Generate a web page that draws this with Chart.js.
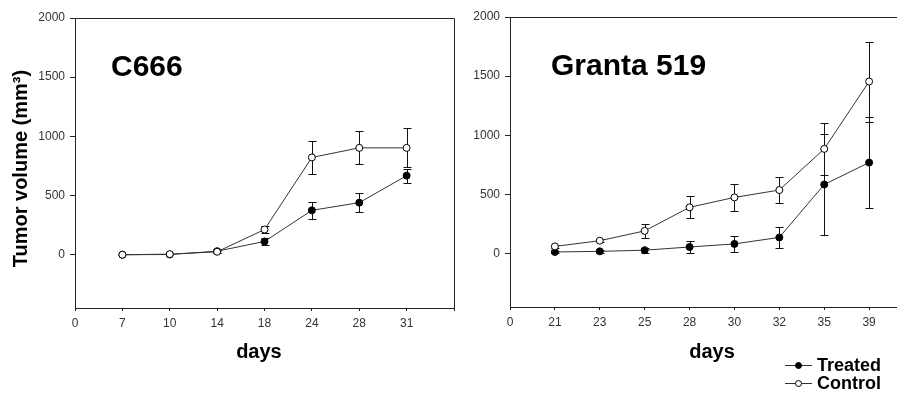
<!DOCTYPE html>
<html>
<head>
<meta charset="utf-8">
<script src="https://cdn.jsdelivr.net/npm/chart.js@4/dist/chart.umd.min.js"></script>
<style>
    html, body { margin: 0; padding: 0; background: #fff; overflow: hidden; }
    body { width: 897px; height: 394px; position: relative; }
    canvas { position: absolute; top: 0; }
    #leftChart { left: 0; }
    #rightChart { left: 460px; }
    #legend {
        position: absolute; left: 785px; top: 356px;
        font: bold 18px Arial, 'Liberation Sans', sans-serif; color: #000;
    }
    #legend .item { display: flex; align-items: center; height: 18px; }
    #legend .mk { position: relative; width: 27px; height: 1px; background: #333; margin-right: 5px; }
    #legend .dot {
        position: absolute; left: 10px; top: -3px; width: 7px; height: 7px;
        border-radius: 50%; border: 1px solid #000; box-sizing: border-box;
    }
</style>
</head>
<body>
<canvas id="leftChart" width="462" height="394"></canvas>
<canvas id="rightChart" width="470" height="394"></canvas>
<div id="legend">
    <div class="item"><span class="mk"><i class="dot" style="background:#000"></i></span>Treated</div>
    <div class="item"><span class="mk"><i class="dot" style="background:#fff"></i></span>Control</div>
</div>
<script>
// -------------------- data --------------------
// x axis tick labels (evenly spaced positions, first one is 0)
const c666Ticks = ['0', '7', '10', '14', '18', '24', '28', '31'];
const grantaTicks = ['0', '21', '23', '25', '28', '30', '32', '35', '39'];

// C666 tumor volume (mm3) and error bars
const c666Treated = [0, 2, 30, 112, 375, 440, 668];
const c666TreatedErr = [0, 0, 15, 30, 72, 78, 58];
const c666Control = [0, 5, 25, 213, 822, 903, 903];
const c666ControlErr = [0, 0, 10, 32, 140, 140, 165];

// Granta 519 tumor volume (mm3) and error bars
const grantaTreated = [15, 20, 30, 57, 83, 138, 585, 770];
const grantaTreatedErr = [10, 10, 20, 50, 65, 88, 425, 384];
const grantaControl = [62, 110, 193, 392, 476, 538, 886, 1455];
const grantaControlErr = [10, 15, 57, 93, 117, 108, 220, 338];

// y axis labels
const yTicks = [0, 500, 1000, 1500, 2000];

const tickFont = { family: 'Arial, "Liberation Sans", sans-serif', size: 12 };
const titleFont = { family: 'Arial, "Liberation Sans", sans-serif', size: 20, weight: 'bold' };

/**
 * turn a list of values into {x, y} points, x = position on the axis (1, 2, ...)
 */
function toPoints (values) {
    return values.map(function (v, i) { return { x: i + 1, y: v }; });
}

// draws vertical error bars with caps under the markers
const errorBars = {
    id: 'errorBars',
    beforeDatasetsDraw (chart) {
        const ctx = chart.ctx;
        const x = chart.scales.x;
        const y = chart.scales.y;
        ctx.save();
        ctx.strokeStyle = '#111';
        ctx.lineWidth = 1;
        chart.data.datasets.forEach(function (ds) {
            ds.data.forEach(function (pt, i) {
                const err = ds.errors[i];
                if (!err) return;
                const px = Math.round(x.getPixelForValue(pt.x)) + 0.5;
                const top = Math.round(y.getPixelForValue(pt.y + err)) + 0.5;
                const bot = Math.round(y.getPixelForValue(pt.y - err)) + 0.5;
                ctx.beginPath();
                ctx.moveTo(px, top); ctx.lineTo(px, bot);
                ctx.moveTo(px - 4, top); ctx.lineTo(px + 4, top);
                ctx.moveTo(px - 4, bot); ctx.lineTo(px + 4, bot);
                ctx.stroke();
            });
        });
        ctx.restore();
    }
};

// top and right edges of the plot box, plus the panel name
const frameAndName = {
    id: 'frameAndName',
    afterDraw (chart, args, opts) {
        const ctx = chart.ctx;
        const a = chart.chartArea;
        ctx.save();
        ctx.strokeStyle = '#222';
        ctx.lineWidth = 1;
        ctx.beginPath();
        ctx.moveTo(Math.round(a.left) + 0.5, Math.round(a.top) + 0.5);
        ctx.lineTo(Math.round(a.right) + 0.5, Math.round(a.top) + 0.5);
        ctx.lineTo(Math.round(a.right) + 0.5, Math.round(a.bottom) + 0.5);
        ctx.stroke();
        ctx.fillStyle = '#000';
        ctx.font = 'bold 30px Arial, "Liberation Sans", sans-serif';
        ctx.textBaseline = 'alphabetic';
        ctx.fillText(opts.text, a.left + opts.dx, a.top + 58);
        ctx.restore();
    }
};

/**
 * build one panel config
 */
function makeConfig (ticks, treated, treatedErr, control, controlErr, opts) {
    const line = {
        borderColor: '#333',
        borderWidth: 1,
        pointRadius: 3.5,
        pointBorderWidth: 1,
        pointBorderColor: '#000',
        tension: 0
    };
    return {
        type: 'line',
        data: {
            // Chart.js paints the first dataset on top, so Control goes first
            datasets: [
                Object.assign({ label: 'Control', data: toPoints(control), errors: controlErr, pointBackgroundColor: '#fff' }, line),
                Object.assign({ label: 'Treated', data: toPoints(treated), errors: treatedErr, pointBackgroundColor: '#000' }, line)
            ]
        },
        options: {
            responsive: false,
            animation: false,
            layout: { padding: { top: opts.top, right: opts.right, bottom: 0, left: 0 } },
            plugins: {
                legend: { display: false },
                tooltip: { enabled: false },
                frameAndName: { text: opts.name, dx: opts.nameDx }
            },
            scales: {
                x: {
                    type: 'linear',
                    min: 0,
                    max: ticks.length,
                    afterFit (scale) { scale.height = 394 - opts.bottom; },
                    border: { color: '#222', width: 1 },
                    grid: { drawOnChartArea: false, tickLength: 3, color: '#222' },
                    ticks: {
                        stepSize: 1,
                        padding: 5,
                        maxRotation: 0,
                        autoSkip: false,
                        color: '#333',
                        font: tickFont,
                        callback: function (v) { return ticks[v] !== undefined ? ticks[v] : ''; }
                    },
                    title: { display: true, text: opts.xTitle, color: '#000', font: titleFont, padding: { top: 0, bottom: 30 } }
                },
                y: {
                    min: -450,
                    max: 2000,
                    afterFit (scale) { scale.width = opts.yWidth; },
                    afterBuildTicks (scale) { scale.ticks = yTicks.map(function (v) { return { value: v }; }); },
                    border: { color: '#222', width: 1 },
                    grid: { drawOnChartArea: false, tickLength: 5, color: '#222' },
                    ticks: {
                        padding: 5,
                        color: '#333',
                        font: tickFont,
                        callback: function (v) { return String(v); }
                    },
                    title: {
                        display: opts.yTitle !== '',
                        text: opts.yTitle,
                        color: '#000',
                        font: titleFont,
                        padding: { top: 9, bottom: 0 }
                    }
                }
            }
        },
        plugins: [errorBars, frameAndName]
    };
}

// left panel: C666
const leftChart = new Chart(
    document.getElementById('leftChart'),
    makeConfig(c666Ticks, c666Treated, c666TreatedErr, c666Control, c666ControlErr, {
        name: 'C666', nameDx: 36, top: 18, right: 8, bottom: 308, yWidth: 75,
        xTitle: 'days  ', yTitle: 'Tumor volume (mm³)  '
    })
);

// right panel: Granta 519 (its right edge runs past the picture)
const rightChart = new Chart(
    document.getElementById('rightChart'),
    makeConfig(grantaTicks, grantaTreated, grantaTreatedErr, grantaControl, grantaControlErr, {
        name: 'Granta 519', nameDx: 41, top: 17, right: 16, bottom: 307, yWidth: 50,
        xTitle: 'days', yTitle: ''
    })
);
</script>
</body>
</html>
